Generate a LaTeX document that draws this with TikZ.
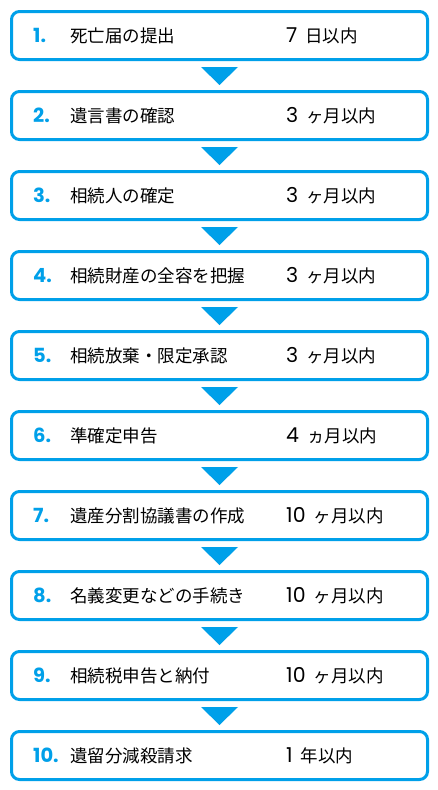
\documentclass[tikz,border=0pt]{standalone}
\usepackage{fontspec}
\setmainfont{Noto Sans CJK JP}
\newfontfamily\numfont{Poppins}
\usetikzlibrary{calc}
\definecolor{stepblue}{RGB}{0,160,233}
\begin{document}
\begin{tikzpicture}[x=1pt,y=-1pt,
  stepbox/.style={draw=stepblue, line width=3pt, rounded corners=8pt,
    minimum width=416pt, minimum height=48pt, inner sep=0pt, fill=white},
  numlabel/.style={anchor=west, inner sep=0pt, text=stepblue,
    font=\numfont\bfseries\fontsize{19.5}{19.5}\selectfont},
  steplabel/.style={anchor=west, inner sep=0pt,
    font=\fontsize{17.5}{17.5}\selectfont},
  arrowtri/.style={fill=stepblue}]
\fill[white] (0,0) rectangle (438,790);
\useasboundingbox (0,0) rectangle (438,790);
\foreach \i/\txt/\nn/\unit in {
  1/死亡届の提出/7/日以内,
  2/遺言書の確認/3/ヶ月以内,
  3/相続人の確定/3/ヶ月以内,
  4/相続財産の全容を把握/3/ヶ月以内,
  5/相続放棄・限定承認/3/ヶ月以内,
  6/準確定申告/4/ヵ月以内,
  7/遺産分割協議書の作成/10/ヶ月以内,
  8/名義変更などの手続き/10/ヶ月以内,
  9/相続税申告と納付/10/ヶ月以内,
  10/遺留分減殺請求/1/年以内}{
  \node[stepbox] (b\i) at (219.5,{35.5+80*(\i-1)}) {};
  \node[numlabel] (n\i) at (33,{35.5+80*(\i-1)}) {\i.};
  \node[steplabel] (t\i) at (70,{35.5+80*(\i-1)}) {\txt};
  \node[steplabel] (d\i) at (286,{35.5+80*(\i-1)})
    {{\numfont\fontsize{20.5}{20.5}\selectfont\nn}\hspace{8pt}\unit};
}
\foreach \i in {1,...,9}{
  \fill[arrowtri] ($(b\i.south)+(-18.5,6)$) -- ($(b\i.south)+(18.5,6)$)
    -- ($(b\i.south)+(0,24)$) -- cycle;
}
\end{tikzpicture}
\end{document}
